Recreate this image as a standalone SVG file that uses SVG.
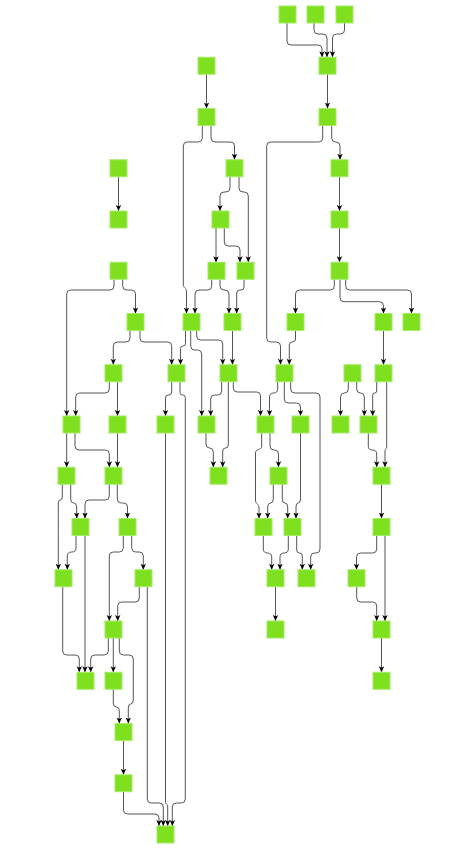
<svg xmlns="http://www.w3.org/2000/svg" width="475" height="849" viewBox="0 0 475 849">
<style>
.n{fill:#7FE01F;stroke:#A6EA68;stroke-width:1}
.e{fill:none;stroke:#555;stroke-width:1;marker-end:url(#a)}
</style>
<defs>
<marker id="a" viewBox="0 0 6 6" refX="6" refY="3" markerWidth="6" markerHeight="6" orient="auto" markerUnits="userSpaceOnUse"><path d="M0,0.3 L6,3 L0,5.7 L1.5,3 z" fill="#000"/></marker>
</defs>
<rect width="475" height="849" fill="#fff"/>
<g id="connectors">
<path class="e" d="M287,23 V41 Q287,45 291,45 H318 Q322,45 322,49 V57.25"/>
<path class="e" d="M314,23 V30 Q314,34 318,34 H323 Q327,34 327,38 V57.25"/>
<path class="e" d="M344.5,23 V30 Q344.5,34 340.5,34 H336.5 Q332.5,34 332.5,38 V57.25"/>
<path class="e" d="M206.5,74.25 V108.5"/>
<path class="e" d="M327.5,74.25 V108.5"/>
<path class="e" d="M202.3,125.5 V138 Q202.3,142 198.3,142 H187.3 Q183.3,142 183.3,146 V284 C183.3,289 186.5,287 186.5,292 V313.5"/>
<path class="e" d="M211,125.5 V138 Q211,142 215,142 H230.5 Q234.5,142 234.5,146 V159.75"/>
<path class="e" d="M322.7,125.5 V138 Q322.7,142 318.7,142 H270.7 Q266.7,142 266.7,146 V338 Q266.7,342 270.7,342 H276.5 Q280.5,342 280.5,346 V364.75"/>
<path class="e" d="M331.7,125.5 V138 Q331.7,142 335.7,142 H336 Q340,142 340,146 V159.75"/>
<path class="e" d="M118.5,176.75 V211"/>
<path class="e" d="M230,176.75 V188 Q230,192 226,192 H224 Q220,192 220,196 V211"/>
<path class="e" d="M239,176.75 V188 Q239,192 243,192 H244.3 Q248.3,192 248.3,196 V262.25"/>
<path class="e" d="M339.5,176.75 V211"/>
<path class="e" d="M216,228 V262.25"/>
<path class="e" d="M224.3,228 V242 Q224.3,246 228.3,246 H236 Q240,246 240,250 V262.25"/>
<path class="e" d="M339.5,228 V262.25"/>
<path class="e" d="M114,279.25 V286 Q114,290 110,290 H70.7 Q66.7,290 66.7,294 V416"/>
<path class="e" d="M122.7,279.25 V286 Q122.7,290 126.7,290 H131.5 Q135.5,290 135.5,294 V313.5"/>
<path class="e" d="M211.7,279.25 V286 Q211.7,290 207.7,290 H199 Q195,290 195,294 V313.5"/>
<path class="e" d="M220,279.25 V286 Q220,290 224,290 H225 Q229,290 229,294 V313.5"/>
<path class="e" d="M244,279.25 V287 Q244,290 241,290 H239.7 Q236.7,290 236.7,293 V313.5"/>
<path class="e" d="M334.3,279.25 V286 Q334.3,290 330.3,290 H299.5 Q295.5,290 295.5,294 V313.5"/>
<path class="e" d="M340,279.25 V297.7 Q340,301.7 344,301.7 H379.5 Q383.5,301.7 383.5,305.7 V313.5"/>
<path class="e" d="M345.7,279.25 V286 Q345.7,290 349.7,290 H407.5 Q411.5,290 411.5,294 V313.5"/>
<path class="e" d="M130,330.5 V338 Q130,342 126,342 H117.3 Q113.3,342 113.3,346 V364.75"/>
<path class="e" d="M140,330.5 V338 Q140,342 144,342 H167.7 Q171.7,342 171.7,346 V364.75"/>
<path class="e" d="M185.5,330.5 V343.5 Q185.5,346 183,346 Q180.5,346 180.5,348.5 V364.75"/>
<path class="e" d="M190.7,330.5 V346 Q190.7,350 194.7,350 H197.7 Q201.7,350 201.7,354 V416"/>
<path class="e" d="M196.7,330.5 V336 Q196.7,340 200.7,340 H218.7 Q222.7,340 222.7,344 V364.75"/>
<path class="e" d="M232.5,330.5 V364.75"/>
<path class="e" d="M295.5,330.5 V339 Q295.5,342 292.4,342 Q289.3,342 289.3,345 V364.75"/>
<path class="e" d="M383.5,330.5 V364.75"/>
<path class="e" d="M109.3,381.75 V389 Q109.3,393 105.3,393 H79.7 Q75.7,393 75.7,397 V416"/>
<path class="e" d="M117.5,381.75 V416"/>
<path class="e" d="M171.7,381.75 V392 Q171.7,395 168.6,395 Q165.5,395 165.5,398 V416"/>
<path class="e" d="M180,381.75 V392.5 Q180,395 182.6,395 Q185.3,395 185.3,397.5 V799 Q185.3,803 181.3,803 H176.3 Q172.3,803 172.3,807 V826"/>
<path class="e" d="M221.7,381.75 V391 Q221.7,395 217.7,395 H214.7 Q210.7,395 210.7,399 V416"/>
<path class="e" d="M228.3,381.75 V445 Q228.3,448 225.5,448 Q222.7,448 222.7,451 V467.25"/>
<path class="e" d="M233.3,381.75 V388 Q233.3,392 237.3,392 H256.5 Q260.5,392 260.5,396 V416"/>
<path class="e" d="M277.7,381.75 V389 Q277.7,393 273.6,393 Q269.5,393 269.5,397 V416"/>
<path class="e" d="M284.3,381.75 V399 Q284.3,403 288.3,403 H296.5 Q300.5,403 300.5,407 V416"/>
<path class="e" d="M290.7,381.75 V389 Q290.7,393 294.7,393 H316 Q320,393 320,397 V549 Q320,553 316,553 H314.7 Q310.7,553 310.7,557 V569.75"/>
<path class="e" d="M348.3,381.75 V389 Q348.3,393 344.4,393 Q340.5,393 340.5,397 V416"/>
<path class="e" d="M356.7,381.75 V389 Q356.7,393 360.5,393 Q364.3,393 364.3,397 V416"/>
<path class="e" d="M376.7,381.75 V391 Q376.7,393 374.7,393 Q372.7,393 372.7,395 V416"/>
<path class="e" d="M386.7,381.75 V446 C386.7,450 385,448 385,452 V467.25"/>
<path class="e" d="M66.7,433 V467.25"/>
<path class="e" d="M75,433 V446 Q75,450 79,450 H105.3 Q109.3,450 109.3,454 V467.25"/>
<path class="e" d="M117.5,433 V467.25"/>
<path class="e" d="M165.5,433 V801 C165.5,805 167.7,803 167.7,807 V826"/>
<path class="e" d="M206,433 V444 Q206,448 209.6,448 Q213.3,448 213.3,452 V467.25"/>
<path class="e" d="M270,433 V446 Q270,450 274,450 H274.5 Q278.5,450 278.5,454 V467.25"/>
<path class="e" d="M261.7,433 V446 C261.7,451 255.5,448 255.5,453 V500 C255.5,505 259,503 259,508 V518.5"/>
<path class="e" d="M300.5,433 V499 Q300.5,503 298.2,503 Q296,503 296,507 V518.5"/>
<path class="e" d="M273.3,484.25 V499 Q273.3,503 270.5,503 Q267.7,503 267.7,507 V518.5"/>
<path class="e" d="M282.3,484.25 V499 Q282.3,503 285,503 Q287.7,503 287.7,507 V518.5"/>
<path class="e" d="M368.3,433 V446 Q368.3,450 372.5,450 Q376.7,450 376.7,454 V467.25"/>
<path class="e" d="M381.5,484.25 V518.5"/>
<path class="e" d="M62.3,484.25 V497 Q62.3,500 60.3,500 Q58.3,500 58.3,503 V569.75"/>
<path class="e" d="M70.7,484.25 V499 Q70.7,503 73.7,503 Q76.7,503 76.7,507 V518.5"/>
<path class="e" d="M109.3,484.25 V496 Q109.3,500 105.3,500 H89 Q85,500 85,504 V518.5"/>
<path class="e" d="M117.3,484.25 V499 Q117.3,503 121.3,503 H123.5 Q127.5,503 127.5,507 V518.5"/>
<path class="e" d="M76,535.5 V548 Q76,552 71.7,552 Q67.3,552 67.3,556 V569.75"/>
<path class="e" d="M85,535.5 V672.25"/>
<path class="e" d="M123.3,535.5 V548 Q123.3,552 119.3,552 H113.3 Q109.3,552 109.3,556 V621"/>
<path class="e" d="M131.7,535.5 V548 Q131.7,552 135.7,552 H139.3 Q143.3,552 143.3,556 V569.75"/>
<path class="e" d="M263.3,535.5 V549 Q263.3,553 267.5,553 Q271.7,553 271.7,557 V569.75"/>
<path class="e" d="M288.3,535.5 V549 Q288.3,553 284.2,553 Q280,553 280,557 V569.75"/>
<path class="e" d="M296.7,535.5 V550 Q296.7,553 299.5,553 Q302.3,553 302.3,556 V569.75"/>
<path class="e" d="M376.7,535.5 V549 Q376.7,553 372.7,553 H360.5 Q356.5,553 356.5,557 V569.75"/>
<path class="e" d="M385,535.5 V621"/>
<path class="e" d="M356.7,586.75 V598 Q356.7,602 360.7,602 H372.7 Q376.7,602 376.7,606 V621"/>
<path class="e" d="M275.5,586.75 V621"/>
<path class="e" d="M62.7,586.75 V651 Q62.7,655 66.7,655 H75.3 Q79.3,655 79.3,659 V672.25"/>
<path class="e" d="M139.3,586.75 V598 Q139.3,602 135.3,602 H121.7 Q117.7,602 117.7,606 V621"/>
<path class="e" d="M147.3,586.75 V799 Q147.3,803 151.3,803 H159.3 Q163.3,803 163.3,807 V826"/>
<path class="e" d="M108.3,638 V651 Q108.3,655 104.3,655 H94.7 Q90.7,655 90.7,659 V672.25"/>
<path class="e" d="M113.3,638 V672.25"/>
<path class="e" d="M119.3,638 V651 Q119.3,655 123.3,655 H129.3 Q133.3,655 133.3,659 V700 Q133.3,704 130.8,704 Q128.3,704 128.3,708 V723.5"/>
<path class="e" d="M113.3,689.25 V703 Q113.3,707 116.3,707 Q119.3,707 119.3,711 V723.5"/>
<path class="e" d="M381.5,638 V672.25"/>
<path class="e" d="M123.5,740.5 V774.75"/>
<path class="e" d="M123.5,791.75 V810 Q123.5,814 127.5,814 H155 Q159,814 159,818 V826"/>
</g>
<g id="n0a"><rect class="n" x="279" y="6" width="17" height="17"/></g>
<g id="n0b"><rect class="n" x="307" y="6" width="17" height="17"/></g>
<g id="n0c"><rect class="n" x="336" y="6" width="17" height="17"/></g>
<g id="n1a"><rect class="n" x="198" y="57.25" width="17" height="17"/></g>
<g id="n1b"><rect class="n" x="319" y="57.25" width="17" height="17"/></g>
<g id="n2a"><rect class="n" x="198" y="108.5" width="17" height="17"/></g>
<g id="n2b"><rect class="n" x="319" y="108.5" width="17" height="17"/></g>
<g id="n3a"><rect class="n" x="110" y="159.75" width="17" height="17"/></g>
<g id="n3b"><rect class="n" x="226" y="159.75" width="17" height="17"/></g>
<g id="n3c"><rect class="n" x="331" y="159.75" width="17" height="17"/></g>
<g id="n4a"><rect class="n" x="110" y="211" width="17" height="17"/></g>
<g id="n4b"><rect class="n" x="212" y="211" width="17" height="17"/></g>
<g id="n4c"><rect class="n" x="331" y="211" width="17" height="17"/></g>
<g id="n5a"><rect class="n" x="110" y="262.25" width="17" height="17"/></g>
<g id="n5b"><rect class="n" x="208" y="262.25" width="17" height="17"/></g>
<g id="n5c"><rect class="n" x="237" y="262.25" width="17" height="17"/></g>
<g id="n5d"><rect class="n" x="331" y="262.25" width="17" height="17"/></g>
<g id="n6a"><rect class="n" x="127" y="313.5" width="17" height="17"/></g>
<g id="n6b"><rect class="n" x="183" y="313.5" width="17" height="17"/></g>
<g id="n6c"><rect class="n" x="224" y="313.5" width="17" height="17"/></g>
<g id="n6d"><rect class="n" x="287" y="313.5" width="17" height="17"/></g>
<g id="n6e"><rect class="n" x="375" y="313.5" width="17" height="17"/></g>
<g id="n6f"><rect class="n" x="403" y="313.5" width="17" height="17"/></g>
<g id="n7a"><rect class="n" x="105" y="364.75" width="17" height="17"/></g>
<g id="n7b"><rect class="n" x="168" y="364.75" width="17" height="17"/></g>
<g id="n7c"><rect class="n" x="220" y="364.75" width="17" height="17"/></g>
<g id="n7d"><rect class="n" x="276" y="364.75" width="17" height="17"/></g>
<g id="n7e"><rect class="n" x="344" y="364.75" width="17" height="17"/></g>
<g id="n7f"><rect class="n" x="375" y="364.75" width="17" height="17"/></g>
<g id="n8a"><rect class="n" x="63" y="416" width="17" height="17"/></g>
<g id="n8b"><rect class="n" x="109" y="416" width="17" height="17"/></g>
<g id="n8c"><rect class="n" x="157" y="416" width="17" height="17"/></g>
<g id="n8d"><rect class="n" x="198" y="416" width="17" height="17"/></g>
<g id="n8e"><rect class="n" x="257" y="416" width="17" height="17"/></g>
<g id="n8f"><rect class="n" x="292" y="416" width="17" height="17"/></g>
<g id="n8g"><rect class="n" x="332" y="416" width="17" height="17"/></g>
<g id="n8h"><rect class="n" x="360" y="416" width="17" height="17"/></g>
<g id="n9a"><rect class="n" x="58" y="467.25" width="17" height="17"/></g>
<g id="n9b"><rect class="n" x="105" y="467.25" width="17" height="17"/></g>
<g id="n9c"><rect class="n" x="210" y="467.25" width="17" height="17"/></g>
<g id="n9d"><rect class="n" x="270" y="467.25" width="17" height="17"/></g>
<g id="n9e"><rect class="n" x="373" y="467.25" width="17" height="17"/></g>
<g id="n10a"><rect class="n" x="72" y="518.5" width="17" height="17"/></g>
<g id="n10b"><rect class="n" x="119" y="518.5" width="17" height="17"/></g>
<g id="n10c"><rect class="n" x="255" y="518.5" width="17" height="17"/></g>
<g id="n10d"><rect class="n" x="284" y="518.5" width="17" height="17"/></g>
<g id="n10e"><rect class="n" x="373" y="518.5" width="17" height="17"/></g>
<g id="n11a"><rect class="n" x="55" y="569.75" width="17" height="17"/></g>
<g id="n11b"><rect class="n" x="135" y="569.75" width="17" height="17"/></g>
<g id="n11c"><rect class="n" x="267" y="569.75" width="17" height="17"/></g>
<g id="n11d"><rect class="n" x="298" y="569.75" width="17" height="17"/></g>
<g id="n11e"><rect class="n" x="348" y="569.75" width="17" height="17"/></g>
<g id="n12a"><rect class="n" x="105" y="621" width="17" height="17"/></g>
<g id="n12b"><rect class="n" x="267" y="621" width="17" height="17"/></g>
<g id="n12c"><rect class="n" x="373" y="621" width="17" height="17"/></g>
<g id="n13a"><rect class="n" x="77" y="672.25" width="17" height="17"/></g>
<g id="n13b"><rect class="n" x="105" y="672.25" width="17" height="17"/></g>
<g id="n13c"><rect class="n" x="373" y="672.25" width="17" height="17"/></g>
<g id="n14"><rect class="n" x="115" y="723.5" width="17" height="17"/></g>
<g id="n15"><rect class="n" x="115" y="774.75" width="17" height="17"/></g>
<g id="n16"><rect class="n" x="157" y="826" width="17" height="17"/></g>
</svg>
